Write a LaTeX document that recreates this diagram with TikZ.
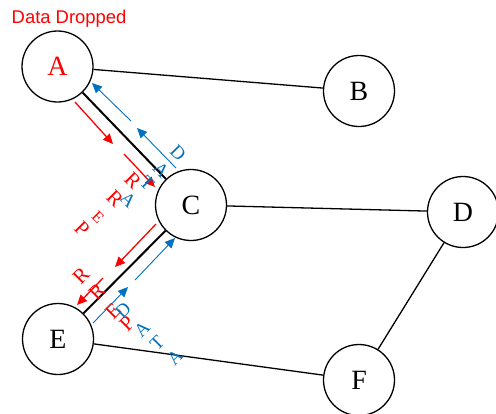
\documentclass[tikz,border=0pt]{standalone}
\usepackage{fontspec}
\setmainfont{Liberation Serif}
\newfontfamily\arialfont{Liberation Sans}
\usetikzlibrary{arrows.meta}
\definecolor{dred}{RGB}{255,0,0}
\definecolor{dblue}{RGB}{0,112,192}
\begin{document}
\begin{tikzpicture}[x=1bp,y=-1bp,
  nodecirc/.style={circle,draw=black,line width=1.3bp,minimum size=71bp,inner sep=0pt,font=\fontsize{28}{28}\selectfont},
  link/.style={draw=black,line width=1.3bp},
  linkthick/.style={draw=black,line width=2bp},
  redarr/.style={draw=dred,line width=1.3bp,-{Triangle[length=10bp,width=9bp]}},
  bluearr/.style={draw=dblue,line width=0.9bp,-{Triangle[length=10bp,width=9bp]}},
  redlet/.style={text=dred,inner sep=0pt,font=\fontsize{21}{21}\selectfont},
  smallred/.style={text=dred,inner sep=0pt,font=\fontsize{16}{16}\selectfont},
  bluelet/.style={text=dblue,inner sep=0pt,font=\fontsize{19}{19}\selectfont}]
\useasboundingbox (0,0) rectangle (496,413);
\node[nodecirc,text=dred] (A) at (57.5,66.5) {A};
\node[nodecirc] (B) at (359,91) {B};
\node[nodecirc] (C) at (191,205) {C};
\node[nodecirc] (D) at (463,212) {D};
\node[nodecirc] (E) at (58,339) {E};
\node[nodecirc] (F) at (359,380) {F};
\node[text=dred,font=\arialfont\fontsize{18.5}{18.5}\selectfont,anchor=west,inner sep=0pt] (dd) at (11.5,19) {Data Dropped};
% links
\draw[link] (A) -- (B);
\draw[linkthick] (A) -- (C);
\draw[link] (C) -- (D);
\draw[link] (D) -- (F);
\draw[link] (E) -- (F);
\draw[linkthick] (C) -- (E);
% arrow coordinates
\coordinate (ra1s) at (75,102); \coordinate (ra1e) at (113,144);
\coordinate (ra2s) at (124,154); \coordinate (ra2e) at (155,187);
\coordinate (ba1s) at (176,168); \coordinate (ba1e) at (137,128);
\coordinate (ba2s) at (131,121); \coordinate (ba2e) at (92,83);
\coordinate (rb1s) at (156,224); \coordinate (rb1e) at (115,267);
\coordinate (rb2s) at (103,278); \coordinate (rb2e) at (77,305);
\coordinate (bb1s) at (93,323); \coordinate (bb1e) at (128,287);
\coordinate (bb2s) at (135,280); \coordinate (bb2e) at (175,238);
\draw[redarr] (ra1s) -- (ra1e);
\draw[redarr] (ra2s) -- (ra2e);
\draw[bluearr] (ba1s) -- (ba1e);
\draw[bluearr] (ba2s) -- (ba2e);
\draw[redarr] (rb1s) -- (rb1e);
\draw[redarr] (rb2s) -- (rb2e);
\draw[bluearr] (bb1s) -- (bb1e);
\draw[bluearr] (bb2s) -- (bb2e);
% upper labels
\node[bluelet,rotate=-45] (ud1) at (178,153) {D};
\node[bluelet,rotate=-45] (ua1) at (161,170) {A};
\node[bluelet,rotate=-45] (ut1) at (147,183) {T};
\node[bluelet,rotate=-45] (ua2) at (128,200) {A};
\node[redlet,rotate=-45] (ur1) at (133,181) {R};
\node[redlet,rotate=-45] (ur2) at (115,199) {R};
\node[smallred,rotate=-45] (ue1) at (98,217) {E};
\node[redlet,rotate=-45] (up1) at (82,229) {P};
% lower labels
\node[redlet,rotate=45] (lr1) at (81,276) {R};
\node[redlet,rotate=45] (lr2) at (97,292) {R};
\node[redlet,rotate=45] (le1) at (113,311) {E};
\node[redlet,rotate=45] (lp1) at (127,324) {P};
\node[bluelet,rotate=45] (ld1) at (123,310) {D};
\node[bluelet,rotate=45] (la1) at (142,329) {A};
\node[bluelet,rotate=45] (lt1) at (157,343) {T};
\node[bluelet,rotate=45] (la2) at (175,357) {A};
\end{tikzpicture}
\end{document}
